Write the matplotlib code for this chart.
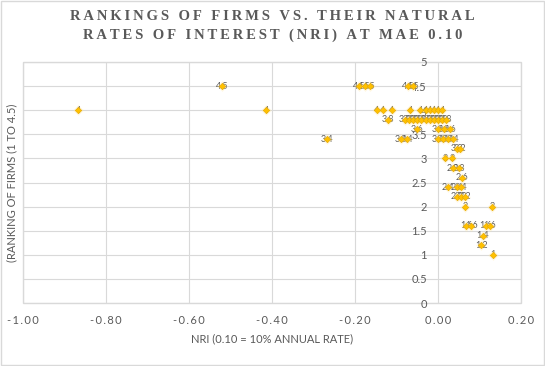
import numpy as np
import matplotlib
matplotlib.use("Agg")
import matplotlib.pyplot as plt
from matplotlib.patches import Rectangle
from matplotlib.ticker import FuncFormatter

# rank of each firm and its natural rate of interest
rank_45 = [-0.52, -0.19, -0.177, -0.165, -0.072, -0.06]
rank_40 = [-0.867, -0.414, -0.147, -0.133, -0.111, -0.067, -0.043, -0.03,
           -0.02, -0.01, 0.0, 0.01]
rank_38 = [-0.12, -0.08, -0.07, -0.06, -0.05, -0.04, -0.03, -0.02, -0.01,
           0.0, 0.01, 0.02]
rank_36 = [-0.05, 0.0, 0.015, 0.03]
rank_34 = [-0.267, -0.09, -0.075, 0.0, 0.012, 0.024, 0.036]
rank_32 = [0.045, 0.052]
rank_30 = [0.018, 0.034]
rank_28 = [0.035, 0.05]
rank_26 = [0.057]
rank_24 = [0.025, 0.045, 0.055]
rank_22 = [0.045, 0.055, 0.065]
rank_20 = [0.065, 0.13]
rank_16 = [0.068, 0.08, 0.115, 0.125]
rank_14 = [0.108]
rank_12 = [0.104]
rank_10 = [0.132]

groups = [(4.5, rank_45), (4, rank_40), (3.8, rank_38), (3.6, rank_36),
          (3.4, rank_34), (3.2, rank_32), (3, rank_30), (2.8, rank_28),
          (2.6, rank_26), (2.4, rank_24), (2.2, rank_22), (2, rank_20),
          (1.6, rank_16), (1.4, rank_14), (1.2, rank_12), (1, rank_10)]

nri = np.array([x for r, xs in groups for x in xs])
rank = np.array([r for r, xs in groups for x in xs])

grey = "#595959"
sans = ["Lato", "DejaVu Sans"]
plt.rcParams["font.family"] = sans

fig = plt.figure(figsize=(5.45, 3.66), dpi=100)
ax = fig.add_axes([23/545, 1-303/366, 498/545, 241/366])

ax.set_xlim(-1.0, 0.2)
ax.set_ylim(0, 5)
ax.set_xticks(np.arange(-1.0, 0.21, 0.2))
ax.set_yticks(np.arange(0, 5.01, 0.5))
ax.grid(True, color="#d9d9d9", linewidth=0.8, zorder=0)
ax.set_axisbelow(True)

for s in ["top", "right", "bottom"]:
    ax.spines[s].set_visible(False)
ax.spines["left"].set_position(("data", 0))
ax.spines["left"].set_visible(False)
ax.patch.set_edgecolor("#d9d9d9")
ax.patch.set_linewidth(1.0)

def spaced(v, pos):
    s = "%.2f" % v
    if s == "-0.00":
        s = "0.00"
    return "\u2009".join(s)

ax.xaxis.set_major_formatter(FuncFormatter(spaced))
ax.yaxis.set_major_formatter(FuncFormatter(lambda v, p: "%g" % v))
ax.tick_params(axis="x", length=0, pad=9, labelsize=8, labelcolor=grey)
ax.tick_params(axis="y", length=0, pad=8, labelsize=8, labelcolor=grey)

# data labels (value of the rank), points drawn over them
for x, y in zip(nri, rank):
    ax.text(x, y, "%g" % y, ha="center", va="center", fontsize=6.5,
            color=grey, zorder=3)
ax.scatter(nri, rank, marker="D", s=30, color="#ffe699", alpha=0.3,
           linewidths=0, zorder=4)
ax.scatter(nri, rank, marker="D", s=11, color="#ffc000",
           edgecolors="#e6a800", linewidths=0.4, zorder=5)

ax.set_xlabel("NRI (0.10 = 10% ANNUAL RATE)", fontsize=8, color=grey)
ax.xaxis.set_label_coords(0.5, -0.125)
ax.set_ylabel("(RANKING OF FIRMS (1 TO 4.5)", fontsize=8, color=grey)
ax.yaxis.set_label_coords(-0.011, 0.5)

title = ["RANKINGS OF FIRMS VS. THEIR NATURAL",
         "RATES OF INTEREST (NRI) AT MAE 0.10"]
fig.text(0.5, 1-17/366, "\u2009".join(title[0]), ha="center", va="center",
         fontsize=10.5, fontweight="bold", color=grey,
         family=["Liberation Serif", "DejaVu Serif"])
fig.text(0.5, 1-35/366, "\u2009".join(title[1]), ha="center", va="center",
         fontsize=10.5, fontweight="bold", color=grey,
         family=["Liberation Serif", "DejaVu Serif"])

fig.patches.append(Rectangle((1/545, 1/366), 543/545, 364/366,
                             transform=fig.transFigure, fill=False,
                             edgecolor="#d9d9d9", linewidth=1.0))

fig.savefig("out.png", dpi=100)
